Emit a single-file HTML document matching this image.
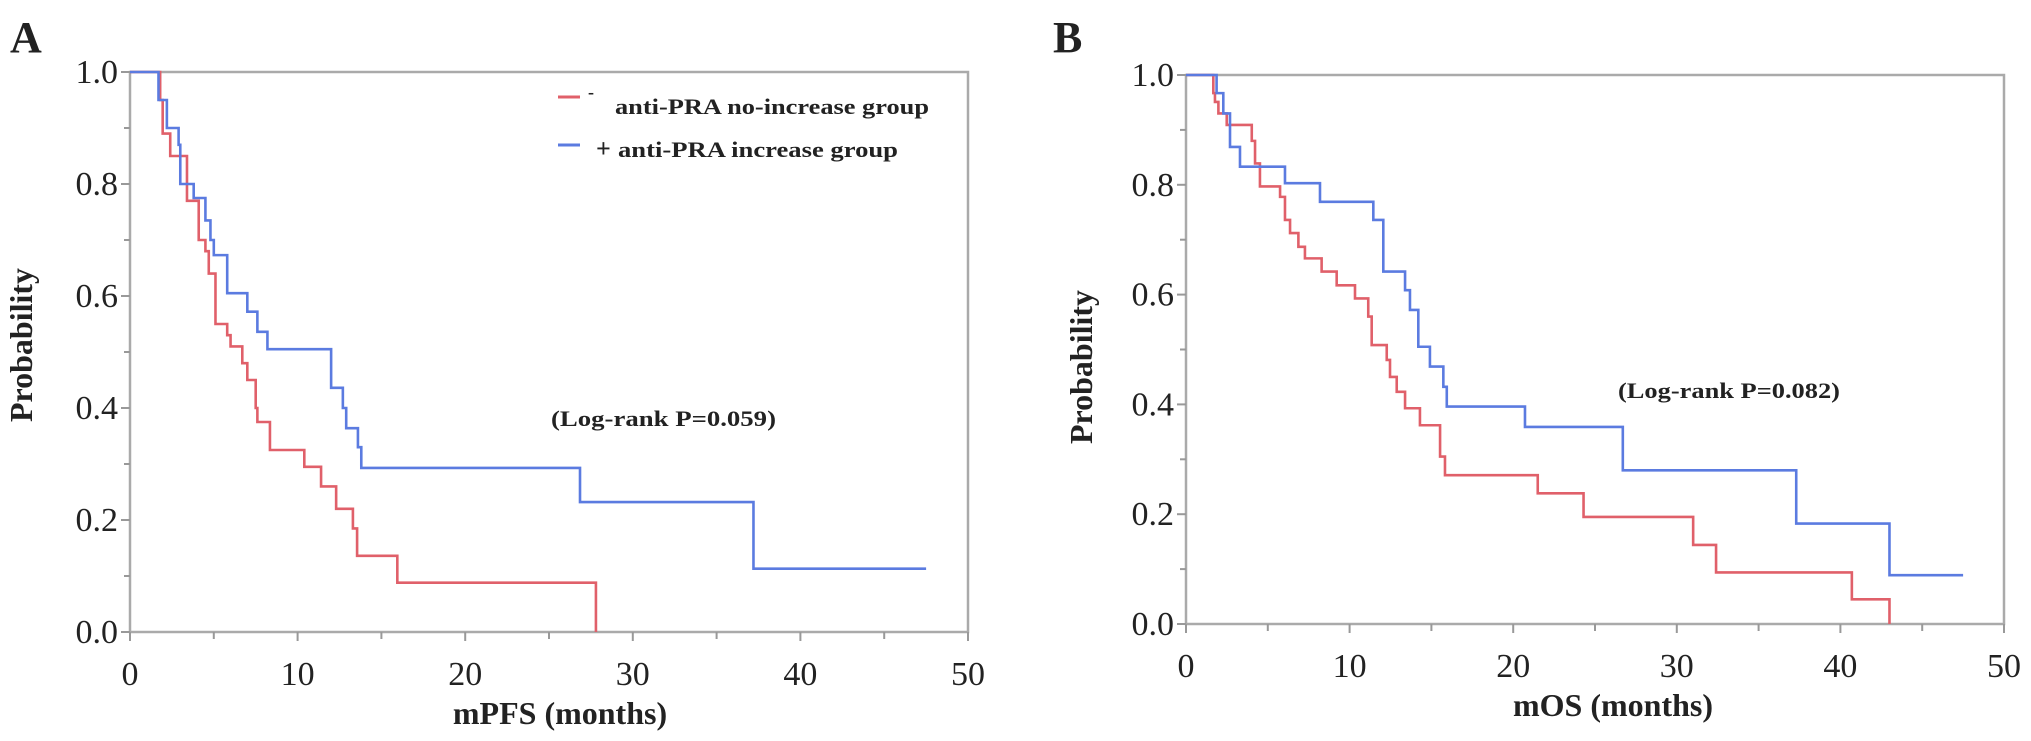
<!DOCTYPE html>
<html><head><meta charset="utf-8"><style>
html,body{margin:0;padding:0;background:#fff;}
svg{display:block;}
text{font-family:"Liberation Serif",serif;fill:#222;}
</style></head><body>
<svg id="fig" width="2031" height="741" viewBox="0 0 2031 741" xmlns="http://www.w3.org/2000/svg">
<text x="10" y="52" font-size="44" font-weight="bold">A</text>
<text x="1053" y="52" font-size="44" font-weight="bold">B</text>
<g>
<g>
<line x1="558" y1="97" x2="580" y2="97" stroke="#e0606a" stroke-width="3"/>
<text x="588" y="98" font-size="18" font-weight="bold">-</text>
<text x="615" y="114" font-size="22" font-weight="bold" textLength="314" lengthAdjust="spacingAndGlyphs">anti-PRA no-increase group</text>
</g>
<g>
<line x1="558" y1="145" x2="580" y2="145" stroke="#5b7be0" stroke-width="3"/>
<text x="596" y="157" font-size="26" font-weight="bold" fill="#444">+</text>
<text x="618" y="157" font-size="22" font-weight="bold" textLength="280" lengthAdjust="spacingAndGlyphs">anti-PRA increase group</text>
</g>
</g>
<text x="551" y="426" font-size="22" font-weight="bold" textLength="225" lengthAdjust="spacingAndGlyphs">(Log-rank P=0.059)</text>
<text x="1618" y="398" font-size="22" font-weight="bold" textLength="222" lengthAdjust="spacingAndGlyphs">(Log-rank P=0.082)</text>
</svg>
<script>
// Panel A (mPFS) data: [time in months, survival probability after step]
const aRedT = [0,1.8,1.95,2.4,3.4,4.1,4.5,4.7,5.1,5.8,6.0,6.7,7.0,7.5,7.6,8.35,10.4,11.4,12.3,13.3,13.55,15.95,27.8];
const aRedP = [1,0.95,0.89,0.85,0.77,0.70,0.68,0.64,0.55,0.53,0.51,0.48,0.45,0.40,0.375,0.325,0.295,0.26,0.22,0.185,0.136,0.088,0];
const aRedEnd = 27.8;
const aBlueT = [0,1.7,2.2,2.9,3.0,3.8,4.5,4.8,5.0,5.8,7.0,7.6,8.2,12.0,12.7,12.9,13.6,13.8,26.85,37.2];
const aBlueP = [1,0.95,0.90,0.87,0.80,0.775,0.735,0.70,0.673,0.605,0.572,0.536,0.505,0.436,0.40,0.364,0.33,0.293,0.232,0.113];
const aBlueEnd = 47.5;
// Panel B (mOS) data
const bRedT = [0,1.67,1.77,1.98,2.49,4.02,4.22,4.52,5.75,6.05,6.36,6.87,7.27,8.29,9.21,10.33,11.14,11.35,12.27,12.47,12.88,13.39,14.3,15.53,15.83,21.5,24.3,31.0,32.4,40.7,43.0];
const bRedP = [1,0.967,0.951,0.93,0.909,0.88,0.839,0.797,0.778,0.736,0.712,0.687,0.666,0.642,0.617,0.593,0.56,0.508,0.481,0.45,0.423,0.393,0.362,0.305,0.271,0.238,0.195,0.144,0.094,0.045,0];
const bRedEnd = 43.0;
const bBlueT = [0,1.87,2.28,2.69,3.3,6.05,8.19,11.45,12.06,13.39,13.69,14.2,14.91,15.73,15.94,20.72,26.7,37.3,43.0];
const bBlueP = [1,0.967,0.93,0.869,0.833,0.803,0.769,0.736,0.642,0.608,0.572,0.505,0.469,0.432,0.396,0.359,0.28,0.183,0.089];
const bBlueEnd = 47.5;
const xTicks = [0,10,20,30,40,50];
const yTicks = [0.0,0.2,0.4,0.6,0.8,1.0];
const yTickLabels = ["0.0","0.2","0.4","0.6","0.8","1.0"];

const NS = "http://www.w3.org/2000/svg";
const svg = document.getElementById('fig');
function mk(tag, attrs, parent){
  const e = document.createElementNS(NS, tag);
  for (const k in attrs) e.setAttribute(k, attrs[k]);
  (parent||svg).appendChild(e);
  return e;
}
function panel(p){
  const sx = t => p.x0 + (t/50)*(p.x1-p.x0);
  const sy = v => p.y0 - v*(p.y0-p.y1);
  const g = mk('g', {});
  
  
  const frame = mk('rect', {x:p.x0, y:p.y1, width:p.x1-p.x0, height:p.y0-p.y1, fill:'none', stroke:'#aaa', 'stroke-width':2.5}, g);
  
  
  for (let t=0; t<=50; t+=5){
    const tk = mk('line', {x1:sx(t), x2:sx(t), y1:p.y0, y2:p.y0+(t%10===0?9:7), stroke:'#999', 'stroke-width':2}, g);
    
    
  }
  xTicks.forEach(t=>{
    const lb = mk('text', {x:sx(t), y:p.y0+53, 'font-size':34, 'text-anchor':'middle'}, g);
    lb.textContent = String(t);
    
    
  });
  for (let i=0;i<=10;i++){
    const v=i/10;
    const tk = mk('line', {x1:p.x0-(i%2===0?9:6), x2:p.x0, y1:sy(v), y2:sy(v), stroke:'#999', 'stroke-width':2}, g);
    
    
  }
  yTicks.forEach((v,i)=>{
    const lb = mk('text', {x:p.x0-12, y:sy(v)+11, 'font-size':34, 'text-anchor':'end'}, g);
    lb.textContent = yTickLabels[i];
    
    
  });
  const yt = mk('text', {x:0, y:0, 'font-size':32, 'font-weight':'bold', 'text-anchor':'middle', transform:`translate(${p.ylx},${p.yly}) rotate(-90)`}, g);
  yt.textContent = 'Probability';
  
  
  const xt = mk('text', {x:p.xtx, y:p.y0+92, 'font-size':32, 'font-weight':'bold', 'text-anchor':'middle'}, g);
  xt.textContent = p.xtitle;
  
  
  p.series.forEach(s=>{
    let d = `M${sx(s.t[0])},${sy(s.p[0])}`;
    for (let i=1;i<s.t.length;i++){
      d += ` H${sx(s.t[i])} V${sy(s.p[i])}`;
    }
    d += ` H${sx(s.end)}`;
    const path = mk('path', {d:d, fill:'none', stroke:s.color, 'stroke-width':2.6}, g);
    
    
  });
}
panel({name:'panel-a-mpfs', x0:130, x1:968, y0:632, y1:72, ylx:32, yly:345, xtx:560, xtitle:'mPFS (months)',
  series:[{t:aRedT,p:aRedP,end:aRedEnd,color:'#e0606a',name:'curve-no-increase-a'},
          {t:aBlueT,p:aBlueP,end:aBlueEnd,color:'#5b7be0',name:'curve-increase-a'}]});
panel({name:'panel-b-mos', x0:1186, x1:2004, y0:624, y1:75, ylx:1092, yly:367, xtx:1613, xtitle:'mOS (months)',
  series:[{t:bRedT,p:bRedP,end:bRedEnd,color:'#e0606a',name:'curve-no-increase-b'},
          {t:bBlueT,p:bBlueP,end:bBlueEnd,color:'#5b7be0',name:'curve-increase-b'}]});
</script>
</body></html>
